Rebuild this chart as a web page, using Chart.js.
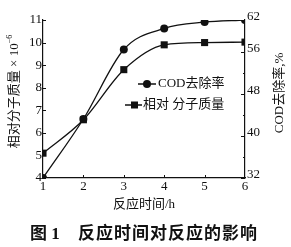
<!DOCTYPE html>
<html>
<head>
<meta charset="utf-8">
<script src="https://cdn.jsdelivr.net/npm/chart.js@4"></script>
<style>
  html, body { margin: 0; padding: 0; background: #fff; }
  #wrap { width: 291px; height: 247px; position: relative; }
</style>
</head>
<body>
<div id="wrap"><canvas id="chart" width="291" height="247"></canvas></div>
<script>
// reaction time (h)
const times = [1, 2, 3, 4, 5, 6];
// COD removal rate, % (right axis)
const codRemoval = [32, 43.2, 56.4, 60.4, 61.6, 62];
// relative molecular mass x 10^-6 (left axis)
const molMass = [5.1, 6.58, 8.8, 9.9, 10.0, 10.02];

const leftTicks = [4, 5, 6, 7, 8, 9, 10, 11];
const rightTicks = [32, 40, 48, 56, 62];
const rightMinor = [36, 44, 52];

const serif = '"Liberation Serif", "Noto Sans CJK SC", serif';
const ink = '#111';

// draws inward ticks, axis titles, legend and caption
const extras = {
    id: 'extras',
    afterDraw(chart) {
        const ctx = chart.ctx;
        const ca = chart.chartArea;
        const sx = chart.scales.x, sy = chart.scales.y, sy1 = chart.scales.y1;
        ctx.save();
        ctx.strokeStyle = ink;
        ctx.lineWidth = 1;

        // inward tick marks
        ctx.beginPath();
        leftTicks.forEach(v => {
            const y = Math.round(sy.getPixelForValue(v)) + 0.5;
            ctx.moveTo(ca.left, y); ctx.lineTo(ca.left + 3, y);
        });
        rightTicks.forEach(v => {
            const y = Math.round(sy1.getPixelForValue(v)) + 0.5;
            ctx.moveTo(ca.right, y); ctx.lineTo(ca.right - 4, y);
        });
        rightMinor.forEach(v => {
            const y = Math.round(sy1.getPixelForValue(v)) + 0.5;
            ctx.moveTo(ca.right, y); ctx.lineTo(ca.right - 2, y);
        });
        [2, 3, 4, 5].forEach(v => {
            const x = Math.round(sx.getPixelForValue(v)) + 0.5;
            ctx.moveTo(x, ca.bottom); ctx.lineTo(x, ca.bottom - 3);
        });
        ctx.stroke();

        ctx.fillStyle = ink;
        ctx.textBaseline = 'middle';

        // left axis title
        ctx.save();
        ctx.translate(15, 92);
        ctx.rotate(-Math.PI / 2);
        ctx.font = '13px ' + serif;
        const main = '相对分子质量 × 10';
        ctx.font = '7px ' + serif;
        const supW = ctx.measureText('−6').width;
        ctx.font = '13px ' + serif;
        const mw = ctx.measureText(main).width;
        const start = -(mw + supW) / 2;
        ctx.textAlign = 'left';
        ctx.fillText(main, start, 0);
        ctx.font = '8px ' + serif;
        ctx.fillText('−6', start + mw, -5);
        ctx.restore();

        // right axis title
        ctx.save();
        ctx.translate(280, 93);
        ctx.rotate(-Math.PI / 2);
        ctx.font = '13px ' + serif;
        ctx.textAlign = 'center';
        ctx.fillText('COD去除率,%', 0, 0);
        ctx.restore();

        // legend
        ctx.lineWidth = 1.3;
        ctx.beginPath();
        ctx.moveTo(138, 84); ctx.lineTo(156, 84);
        ctx.moveTo(125, 105); ctx.lineTo(142, 105);
        ctx.stroke();
        ctx.beginPath();
        ctx.arc(147, 84, 4, 0, Math.PI * 2);
        ctx.fill();
        ctx.fillRect(131, 101.5, 7, 7);
        ctx.font = '13px ' + serif;
        ctx.textAlign = 'left';
        ctx.fillText('COD去除率', 158, 84);
        ctx.fillText('相对 分子质量', 143, 105);

        // x axis title
        ctx.textAlign = 'center';
        ctx.fillText('反应时间/h', 144, 205);

        // caption
        ctx.textAlign = 'left';
        ctx.font = 'bold 17px ' + serif;
        ctx.fillText('图 1', 30, 235);
        ctx.letterSpacing = '1px';
        ctx.fillText('反应时间对反应的影响', 78, 235);
        ctx.restore();
    }
};

const tickFont = { family: serif, size: 13 };

new Chart(document.getElementById('chart'), {
    type: 'line',
    data: {
        datasets: [
            {
                label: 'COD去除率',
                yAxisID: 'y1',
                data: times.map((t, i) => ({ x: t, y: codRemoval[i] })),
                borderColor: ink,
                backgroundColor: ink,
                borderWidth: 1.3,
                pointStyle: 'circle',
                pointRadius: 4,
                pointBorderWidth: 0,
                cubicInterpolationMode: 'monotone'
            },
            {
                label: '相对 分子质量',
                yAxisID: 'y',
                data: times.map((t, i) => ({ x: t, y: molMass[i] })),
                borderColor: ink,
                backgroundColor: ink,
                borderWidth: 1.3,
                pointStyle: 'rect',
                pointRadius: 5,
                pointBorderWidth: 0,
                cubicInterpolationMode: 'monotone'
            }
        ]
    },
    options: {
        responsive: false,
        animation: false,
        devicePixelRatio: 1,
        layout: { padding: { top: 20, left: 0, right: 0, bottom: 0 } },
        plugins: { legend: { display: false }, tooltip: { enabled: false } },
        scales: {
            x: {
                type: 'linear',
                min: 1, max: 6,
                ticks: { stepSize: 1, color: ink, font: tickFont, padding: 1 },
                grid: { drawOnChartArea: false, drawTicks: false },
                border: { color: ink, width: 1.2 },
                afterFit(s) { s.height = 69; }
            },
            y: {
                position: 'left',
                min: 4, max: 11,
                ticks: { stepSize: 1, color: ink, font: tickFont, padding: 1 },
                grid: { drawOnChartArea: false, drawTicks: false },
                border: { color: ink, width: 1.2 },
                afterFit(s) { s.width = 43; }
            },
            y1: {
                position: 'right',
                min: 32, max: 62,
                afterBuildTicks(s) { s.ticks = rightTicks.map(v => ({ value: v })); },
                ticks: { color: ink, font: tickFont, padding: 2, labelOffset: -3 },
                grid: { drawOnChartArea: false, drawTicks: false },
                border: { color: ink, width: 1.2 },
                afterFit(s) { s.width = 46; }
            }
        }
    },
    plugins: [extras]
});
</script>
</body>
</html>
